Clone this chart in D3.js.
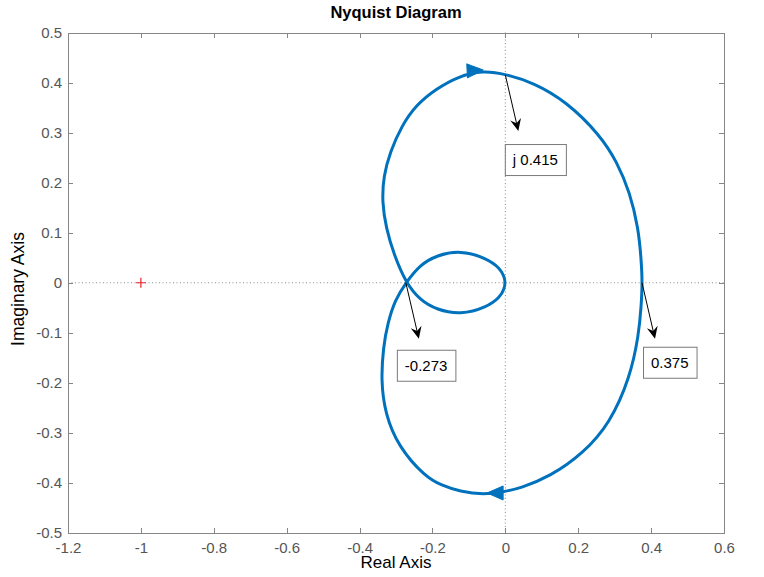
<!DOCTYPE html>
<html>
<head>
<meta charset="utf-8">
<script src="https://cdn.jsdelivr.net/npm/d3@7"></script>
<style>
  body { margin: 0; background: #fff; }
  text { font-family: "Liberation Sans", Arial, Helvetica, sans-serif; }
</style>
</head>
<body>
<script>

// axis ticks
const xTicks = [-1.2, -1, -0.8, -0.6, -0.4, -0.2, 0, 0.2, 0.4, 0.6];
const xTickLabels = ["-1.2", "-1", "-0.8", "-0.6", "-0.4", "-0.2", "0", "0.2", "0.4", "0.6"];
const yTicks = [-0.5, -0.4, -0.3, -0.2, -0.1, 0, 0.1, 0.2, 0.3, 0.4, 0.5];
const yTickLabels = ["-0.5", "-0.4", "-0.3", "-0.2", "-0.1", "0", "0.1", "0.2", "0.3", "0.4", "0.5"];

// positive frequencies: from DC gain (0.375) down round the bottom, into the small loop, to the origin
const posRe = [0.376, 0.373, 0.366, 0.342, 0.287, 0.214, 0.1226, 0.0403, 0, -0.06, -0.125, -0.175, -0.2203, -0.2936, -0.3302, -0.3412, -0.3347, -0.3227, -0.3026, -0.273, -0.234, -0.188, -0.123, -0.051, -0.0145, -0.003, 0];
const posIm = [0, -0.045, -0.105, -0.190, -0.2807, -0.3407, -0.3874, -0.4106, -0.417, -0.4235, -0.417, -0.405, -0.3874, -0.3275, -0.2607, -0.1942, -0.1277, -0.0805, -0.0344, 0, 0.036, 0.055, 0.065, 0.049, 0.029, 0.012, 0];

// negative frequencies: from the origin, lower small loop, up the left side, over the top, back to 0.375
const negRe = [0, -0.003, -0.0145, -0.051, -0.123, -0.188, -0.234, -0.273, -0.3054, -0.3273, -0.3383, -0.3342, -0.3163, -0.2848, -0.245, -0.1901, -0.1298, -0.0612, 0, 0.077, 0.168, 0.260, 0.306, 0.342, 0.365, 0.373, 0.376];
const negIm = [0, -0.012, -0.029, -0.049, -0.064, -0.054, -0.035, 0, 0.0555, 0.1095, 0.1614, 0.2134, 0.2613, 0.3131, 0.3551, 0.3872, 0.4122, 0.4242, 0.417, 0.400, 0.362, 0.295, 0.242, 0.180, 0.109, 0.045, 0];

// direction arrows on the curve (tip positions)
const arrowRe = [-0.061, -0.050];
const arrowIm = [0.425, -0.420];

// critical point
const critRe = [-1];
const critIm = [0];

// data tips
const tipRe = [0, -0.273, 0.375];
const tipIm = [0.415, 0, 0];
const tipLabels = ["j 0.415", "-0.273", "0.375"];

const w = 764;
const h = 577;

const svg = d3.select("body")
        .append("svg")
        .attr("width", w)
        .attr("height", h);

const xScale = d3.scaleLinear().domain([-1.2, 0.6]).range([68, 724]);
const yScale = d3.scaleLinear().domain([-0.5, 0.5]).range([533, 32.5]);

// zero lines (dotted)
svg.append("line")
  .attr("x1", xScale(-1.2)).attr("x2", xScale(0.6))
  .attr("y1", yScale(0)).attr("y2", yScale(0))
  .attr("stroke", "#8c8c8c").attr("stroke-width", 1)
  .attr("stroke-dasharray", "1,2.5");
svg.append("line")
  .attr("x1", xScale(0)).attr("x2", xScale(0))
  .attr("y1", yScale(0.5)).attr("y2", yScale(-0.5))
  .attr("stroke", "#8c8c8c").attr("stroke-width", 1)
  .attr("stroke-dasharray", "1,2.5");

// axes, ticks pointing inwards on all four sides
const axisColor = "#868686";
const labelColor = "#555";

function styleAxis(g) {
  g.selectAll("path").attr("stroke", axisColor).attr("shape-rendering", "crispEdges");
  g.selectAll("line").attr("stroke", axisColor).attr("shape-rendering", "crispEdges");
  g.selectAll("text").attr("fill", labelColor).attr("font-size", "15px")
    .attr("font-family", "'Liberation Sans', Arial, Helvetica, sans-serif");
}

const xAxis = d3.axisBottom(xScale).tickValues(xTicks)
  .tickFormat((d, i) => xTickLabels[i])
  .tickSizeInner(-5).tickSizeOuter(0).tickPadding(9);
svg.append("g").attr("id", "x-axis")
  .attr("transform", "translate(0," + yScale(-0.5) + ")")
  .call(xAxis).call(styleAxis);

const yAxis = d3.axisLeft(yScale).tickValues(yTicks)
  .tickFormat((d, i) => yTickLabels[i])
  .tickSizeInner(-5).tickSizeOuter(0).tickPadding(6);
svg.append("g").attr("id", "y-axis")
  .attr("transform", "translate(" + xScale(-1.2) + ",0)")
  .call(yAxis).call(styleAxis);

svg.append("g")
  .attr("transform", "translate(0," + yScale(0.5) + ")")
  .call(d3.axisTop(xScale).tickValues(xTicks).tickFormat("").tickSizeInner(-5).tickSizeOuter(0))
  .call(styleAxis);
svg.append("g")
  .attr("transform", "translate(" + xScale(0.6) + ",0)")
  .call(d3.axisRight(yScale).tickValues(yTicks).tickFormat("").tickSizeInner(-5).tickSizeOuter(0))
  .call(styleAxis);

// titles
svg.append("text")
  .attr("x", 396).attr("y", 17.5)
  .attr("text-anchor", "middle")
  .attr("font-size", "16.5px").attr("font-weight", "bold")
  .attr("fill", "#000")
  .text("Nyquist Diagram");

svg.append("text")
  .attr("x", 396).attr("y", 568)
  .attr("text-anchor", "middle")
  .attr("font-size", "17px")
  .attr("fill", "#000")
  .text("Real Axis");

svg.append("text")
  .attr("transform", "translate(24,289) rotate(-90)")
  .attr("text-anchor", "middle")
  .attr("font-size", "17.5px")
  .attr("fill", "#000")
  .text("Imaginary Axis");

// nyquist curve: both branches joined into one closed contour, smoothed
const posPts = posRe.map((d, i) => [xScale(d), yScale(posIm[i])]);
const negPts = negRe.map((d, i) => [xScale(d), yScale(negIm[i])]);
const allPts = posPts.concat(negPts.slice(1, -1));

const line = d3.line().curve(d3.curveBasisClosed);
const blue = "#0072BD";

svg.append("path")
  .attr("d", line(allPts))
  .attr("fill", "none")
  .attr("stroke", blue)
  .attr("stroke-width", 3)
  .attr("stroke-linejoin", "round");

// direction arrows, oriented along the curve
arrowRe.forEach((re, k) => {
  const tx = xScale(re), ty = yScale(arrowIm[k]);
  let best = 0, bestD = Infinity;
  allPts.forEach((p, i) => {
    const dd = (p[0] - tx) ** 2 + (p[1] - ty) ** 2;
    if (dd < bestD) { bestD = dd; best = i; }
  });
  const n = allPts.length;
  const a = allPts[(best - 1 + n) % n], b = allPts[(best + 1) % n];
  const ang = Math.atan2(b[1] - a[1], b[0] - a[0]) * 180 / Math.PI;
  svg.append("path")
    .attr("d", "M0,0 L-16,-7 L-16,7 Z")
    .attr("fill", blue)
    .attr("stroke", blue)
    .attr("stroke-width", 1)
    .attr("stroke-linejoin", "round")
    .attr("transform", "translate(" + tx + "," + ty + ") rotate(" + ang + ")");
});

// critical point -1 + j0
critRe.forEach((re, i) => {
  const cx = xScale(re), cy = yScale(critIm[i]);
  svg.append("path")
    .attr("d", "M" + (cx - 5) + "," + cy + "H" + (cx + 5) + "M" + cx + "," + (cy - 5) + "V" + (cy + 5))
    .attr("stroke", "#e8232a")
    .attr("stroke-width", 1.2);
});

// data tips: thin arrow and a framed label
const boxShift = [[-13.5, 13], [-22, 11], [-12, 8]];
tipRe.forEach((re, i) => {
  const px = xScale(re), py = yScale(tipIm[i]);
  const hx = px + 13, hy = py + 56;
  const ang = Math.atan2(hy - py, hx - px) * 180 / Math.PI;
  svg.append("line")
    .attr("x1", px).attr("y1", py)
    .attr("x2", hx - 4 * Math.cos(ang * Math.PI / 180))
    .attr("y2", hy - 4 * Math.sin(ang * Math.PI / 180))
    .attr("stroke", "#000").attr("stroke-width", 1);
  svg.append("path")
    .attr("d", "M0,0 L-12,-5.5 L-8,0 L-12,5.5 Z")
    .attr("fill", "#000")
    .attr("transform", "translate(" + hx + "," + hy + ") rotate(" + ang + ")");

  const g = svg.append("g")
    .attr("transform", "translate(" + (hx + boxShift[i][0]) + "," + (hy + boxShift[i][1]) + ")");
  const rect = g.append("rect");
  const t = g.append("text")
    .attr("x", 8).attr("y", 21)
    .attr("font-size", "15px")
    .attr("fill", "#000")
    .text(tipLabels[i]);
  const tw = t.node().getComputedTextLength();
  rect.attr("x", 0.5).attr("y", 0.5)
    .attr("width", tw + 16).attr("height", 31)
    .attr("fill", "#fff")
    .attr("stroke", "#7a7a7a").attr("stroke-width", 1);
});

</script>
</body>
</html>
